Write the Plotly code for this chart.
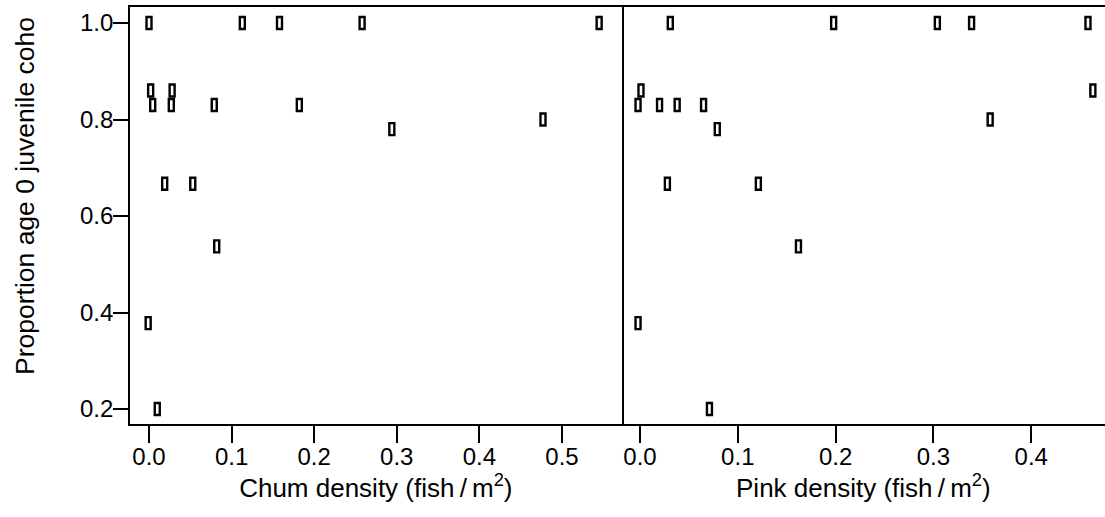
import plotly.graph_objects as go

# ---- data ----
chum_density = [0.0, 0.113, 0.158, 0.258, 0.545, 0.002, 0.028, 0.0045, 0.027, 0.079,
                0.182, 0.294, 0.477, 0.019, 0.053, 0.082, -0.001, 0.010]
chum_prop = [1.0, 1.0, 1.0, 1.0, 1.0, 0.86, 0.86, 0.83, 0.83, 0.83,
             0.83, 0.78, 0.80, 0.667, 0.667, 0.537, 0.378, 0.2]

pink_density = [0.031, 0.198, 0.304, 0.339, 0.458, 0.463, 0.001, -0.002, 0.020, 0.038,
                0.065, 0.079, 0.358, 0.028, 0.121, 0.162, -0.002, 0.071]
pink_prop = [1.0, 1.0, 1.0, 1.0, 1.0, 0.86, 0.86, 0.83, 0.83, 0.83,
             0.83, 0.78, 0.80, 0.667, 0.667, 0.537, 0.378, 0.2]

x_ticks_chum = [0.0, 0.1, 0.2, 0.3, 0.4, 0.5]
x_ticks_pink = [0.0, 0.1, 0.2, 0.3, 0.4]
y_ticks = [0.2, 0.4, 0.6, 0.8, 1.0]

FONT = "Liberation Sans"
split = (621.7 - 130) / 975

fig = go.Figure()
fig.add_trace(go.Scatter(x=chum_density, y=chum_prop, mode="markers", xaxis="x", yaxis="y",
                         marker=dict(size=8, opacity=0), showlegend=False, name="Chum"))
fig.add_trace(go.Scatter(x=pink_density, y=pink_prop, mode="markers", xaxis="x2", yaxis="y2",
                         marker=dict(size=8, opacity=0), showlegend=False, name="Pink"))

shapes = []
for xs, ys, xr, yr in [(chum_density, chum_prop, "x", "y"), (pink_density, pink_prop, "x2", "y2")]:
    for xv, yv in zip(xs, ys):
        shapes.append(dict(type="rect", xref=xr, yref=yr,
                           xsizemode="pixel", xanchor=xv, x0=-2.5, x1=2.5,
                           ysizemode="pixel", yanchor=yv, y0=-6, y1=6,
                           line=dict(color="black", width=2.4), fillcolor="white"))

axis_common = dict(showgrid=False, zeroline=False, linecolor="black",
                   linewidth=1.6, tickcolor="black", tickwidth=1.6,
                   tickfont=dict(family=FONT, size=24, color="black"))

fig.update_layout(
    width=1105, height=517,
    margin=dict(l=130, r=0, t=7, b=93),
    paper_bgcolor="white", plot_bgcolor="white",
    font=dict(family=FONT, color="black"),
    shapes=shapes,
    xaxis=dict(domain=[0, split], range=[-0.023, 0.5723], anchor="y", showline=True,
               tickvals=x_ticks_chum, tickformat=".1f", ticks="outside", ticklen=17,
               ticklabelstandoff=-7, mirror=True,
               title=dict(text="Chum density (fish\u2009/\u2009m<sup>2</sup>)", standoff=7,
                          font=dict(family=FONT, size=26, color="black")),
               **axis_common),
    yaxis=dict(domain=[0, 1], range=[0.1689, 1.0332], anchor="x", showline=True,
               tickvals=y_ticks, tickformat=".1f", ticks="outside", ticklen=15,
               ticklabelstandoff=-5, mirror=True, **axis_common),
    xaxis2=dict(domain=[split, 1], range=[-0.0187, 0.4754], anchor="y2", showline=True,
                tickvals=x_ticks_pink, tickformat=".1f", ticks="outside", ticklen=17,
                ticklabelstandoff=-7, mirror=True,
                title=dict(text="Pink density (fish\u2009/\u2009m<sup>2</sup>)", standoff=7,
                           font=dict(family=FONT, size=26, color="black")),
                **axis_common),
    yaxis2=dict(domain=[0, 1], range=[0.1689, 1.0332], anchor="x2", showline=False,
                showticklabels=False, ticks="", mirror=False, **axis_common),
    annotations=[dict(text="Proportion age 0 juvenile coho", textangle=-90,
                      xref="paper", yref="paper", x=(25 - 130) / 975, y=(424 - 196) / 417,
                      xanchor="center", yanchor="middle", showarrow=False,
                      font=dict(family=FONT, size=26.5, color="black"))],
)

fig.write_html("out.html")
